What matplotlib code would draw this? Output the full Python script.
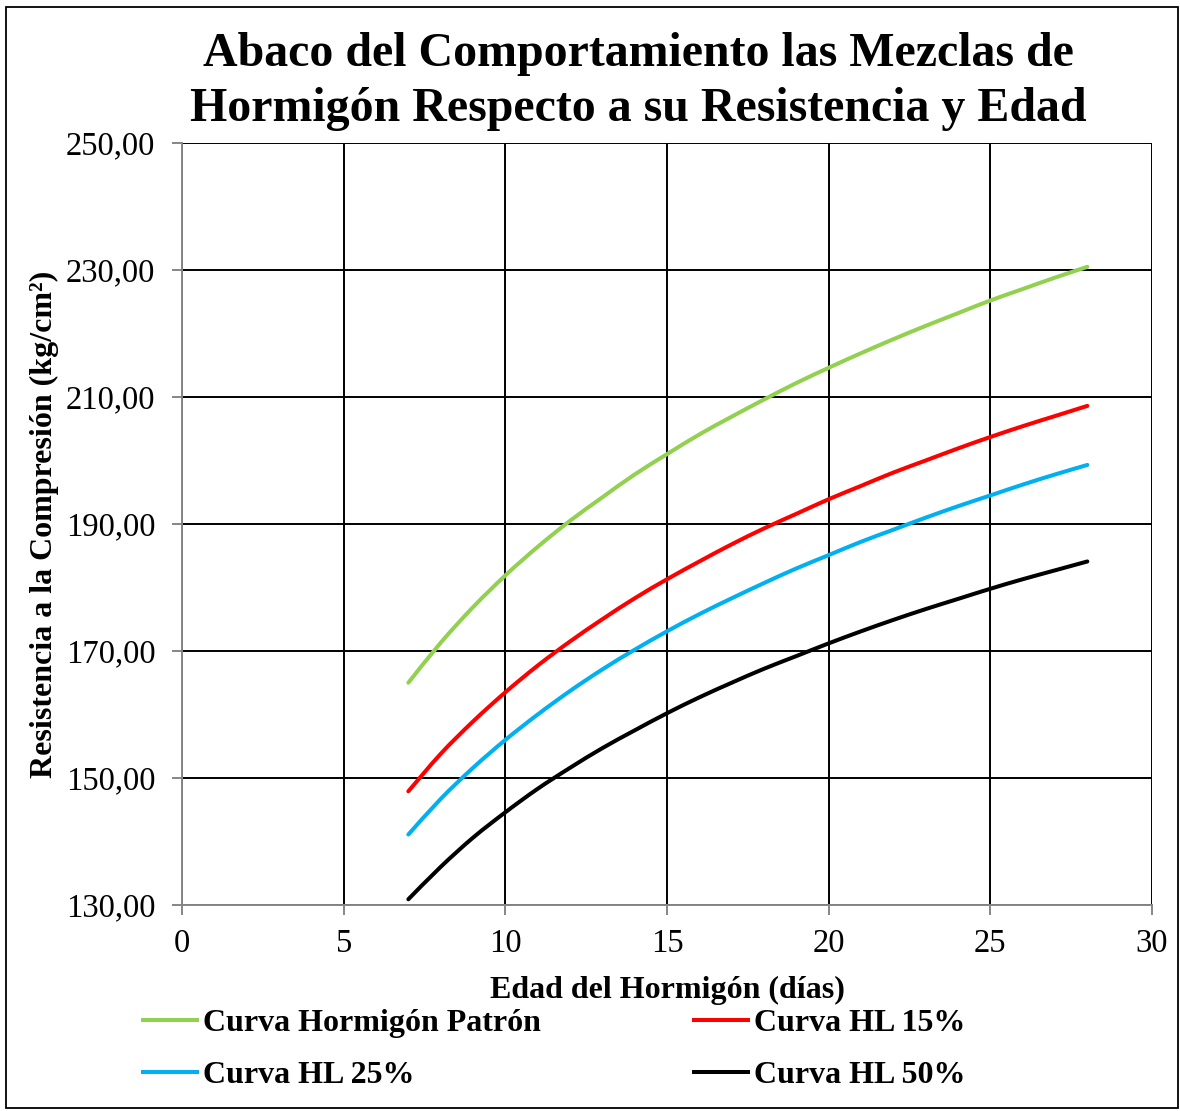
import matplotlib
matplotlib.use("Agg")
import matplotlib.pyplot as plt
from matplotlib.patches import Rectangle, PathPatch
from matplotlib.path import Path
from matplotlib.lines import Line2D
from matplotlib.ticker import FuncFormatter

plt.rcParams['font.family'] = ['Liberation Serif', 'DejaVu Serif']

# Edad del hormigón (días)
dias = [7, 8, 9, 10, 11, 12, 13, 14, 15, 16, 17, 18, 19, 20, 21, 22, 23, 24, 25, 26, 27, 28]

# Resistencia a la compresión (kg/cm²) por mezcla
patron = [165.0, 171.3, 176.9, 181.9, 186.4, 190.5, 194.2, 197.8, 201.0, 204.1, 206.9,
          209.6, 212.2, 214.6, 216.9, 219.1, 221.2, 223.2, 225.2, 227.0, 228.8, 230.5]
hl15 = [147.9, 153.8, 158.9, 163.5, 167.7, 171.5, 175.0, 178.3, 181.3, 184.1, 186.8,
        189.3, 191.6, 193.9, 196.0, 198.1, 200.0, 201.9, 203.7, 205.4, 207.0, 208.6]
hl25 = [141.1, 146.7, 151.6, 156.0, 160.0, 163.7, 167.1, 170.2, 173.1, 175.8, 178.3,
        180.7, 183.0, 185.1, 187.2, 189.1, 191.0, 192.8, 194.5, 196.2, 197.8, 199.3]
hl50 = [130.9, 136.0, 140.6, 144.6, 148.3, 151.6, 154.7, 157.5, 160.2, 162.7, 165.0,
        167.2, 169.2, 171.2, 173.1, 174.9, 176.6, 178.2, 179.8, 181.3, 182.7, 184.1]

series_labels = ["Curva Hormigón Patrón", "Curva HL 25%", "Curva HL 15%", "Curva HL 50%"]
series_values = [patron, hl25, hl15, hl50]
series_colors = ["#92d050", "#00b0f0", "#ff0000", "#000000"]

x_ticks = [0, 5, 10, 15, 20, 25, 30]
y_ticks = [130, 150, 170, 190, 210, 230, 250]

LW = 2.9


def smooth_path(xs, ys):
    """Smoothed line through the points (Catmull-Rom segments as cubic Beziers)."""
    pts = list(zip(xs, ys))
    n = len(pts)
    verts = [pts[0]]
    codes = [Path.MOVETO]
    for i in range(n - 1):
        p0 = pts[i - 1] if i > 0 else pts[i]
        p1 = pts[i]
        p2 = pts[i + 1]
        p3 = pts[i + 2] if i + 2 < n else pts[i + 1]
        c1 = (p1[0] + (p2[0] - p0[0]) / 6, p1[1] + (p2[1] - p0[1]) / 6)
        c2 = (p2[0] - (p3[0] - p1[0]) / 6, p2[1] - (p3[1] - p1[1]) / 6)
        verts += [c1, c2, p2]
        codes += [Path.CURVE4] * 3
    return Path(verts, codes)


fig = plt.figure(figsize=(11.8, 11.11), dpi=100)
ax = fig.add_axes([182 / 1180, 1 - 905 / 1111, (1152 - 182) / 1180, (905 - 143) / 1111])

handles = []
for vals, lab, col in zip(series_values, series_labels, series_colors):
    patch = PathPatch(smooth_path(dias, vals), transform=ax.transData, fill=False,
                      edgecolor=col, lw=LW, capstyle='round', zorder=3)
    ax.add_patch(patch)
    handles.append(Line2D([], [], color=col, lw=LW, label=lab))

ax.set_xlim(0, 30)
ax.set_ylim(130, 250)
ax.set_xticks(x_ticks)
ax.set_yticks(y_ticks)
ax.yaxis.set_major_formatter(FuncFormatter(lambda v, p: f"{v:.2f}".replace('.', ',')))
ax.grid(True, color='black', lw=1.4, zorder=1)
ax.set_axisbelow(True)

for side in ['top', 'right']:
    ax.spines[side].set_visible(False)
for side in ['left', 'bottom']:
    ax.spines[side].set_color('#868686')
    ax.spines[side].set_linewidth(1.4)
ax.tick_params(axis='both', colors='#868686', length=7.2, width=1.4, labelsize=23.5,
               labelcolor='black')
ax.tick_params(axis='x', pad=10)
ax.tick_params(axis='y', pad=12)

ax.set_xlabel("Edad del Hormigón (días)", fontsize=23, fontweight='bold', labelpad=12)
ax.set_ylabel("Resistencia a la Compresión (kg/cm²)", fontsize=23, fontweight='bold', labelpad=5)

fig.text(0.5407, 0.9266, "Abaco del Comportamiento las Mezclas de\nHormigón Respecto a su Resistencia y Edad",
         ha='center', va='center', fontsize=34.5, fontweight='bold', linespacing=1.3)

fig.legend(handles=handles, labels=series_labels, ncol=2, loc='upper left',
           bbox_to_anchor=(143 / 1180, 1 - 1009 / 1111), frameon=False, borderpad=0,
           borderaxespad=0,
           prop={'family': ['Liberation Serif'], 'weight': 'bold', 'size': 23},
           handlelength=1.69, handletextpad=0.19, columnspacing=4.8, labelspacing=0.7)

fig.patches.append(Rectangle((6 / 1180, 3 / 1111), 1172 / 1180, 1101 / 1111,
                             transform=fig.transFigure, fill=False, edgecolor='black', lw=1.3))

fig.savefig("out.png", dpi=100)
